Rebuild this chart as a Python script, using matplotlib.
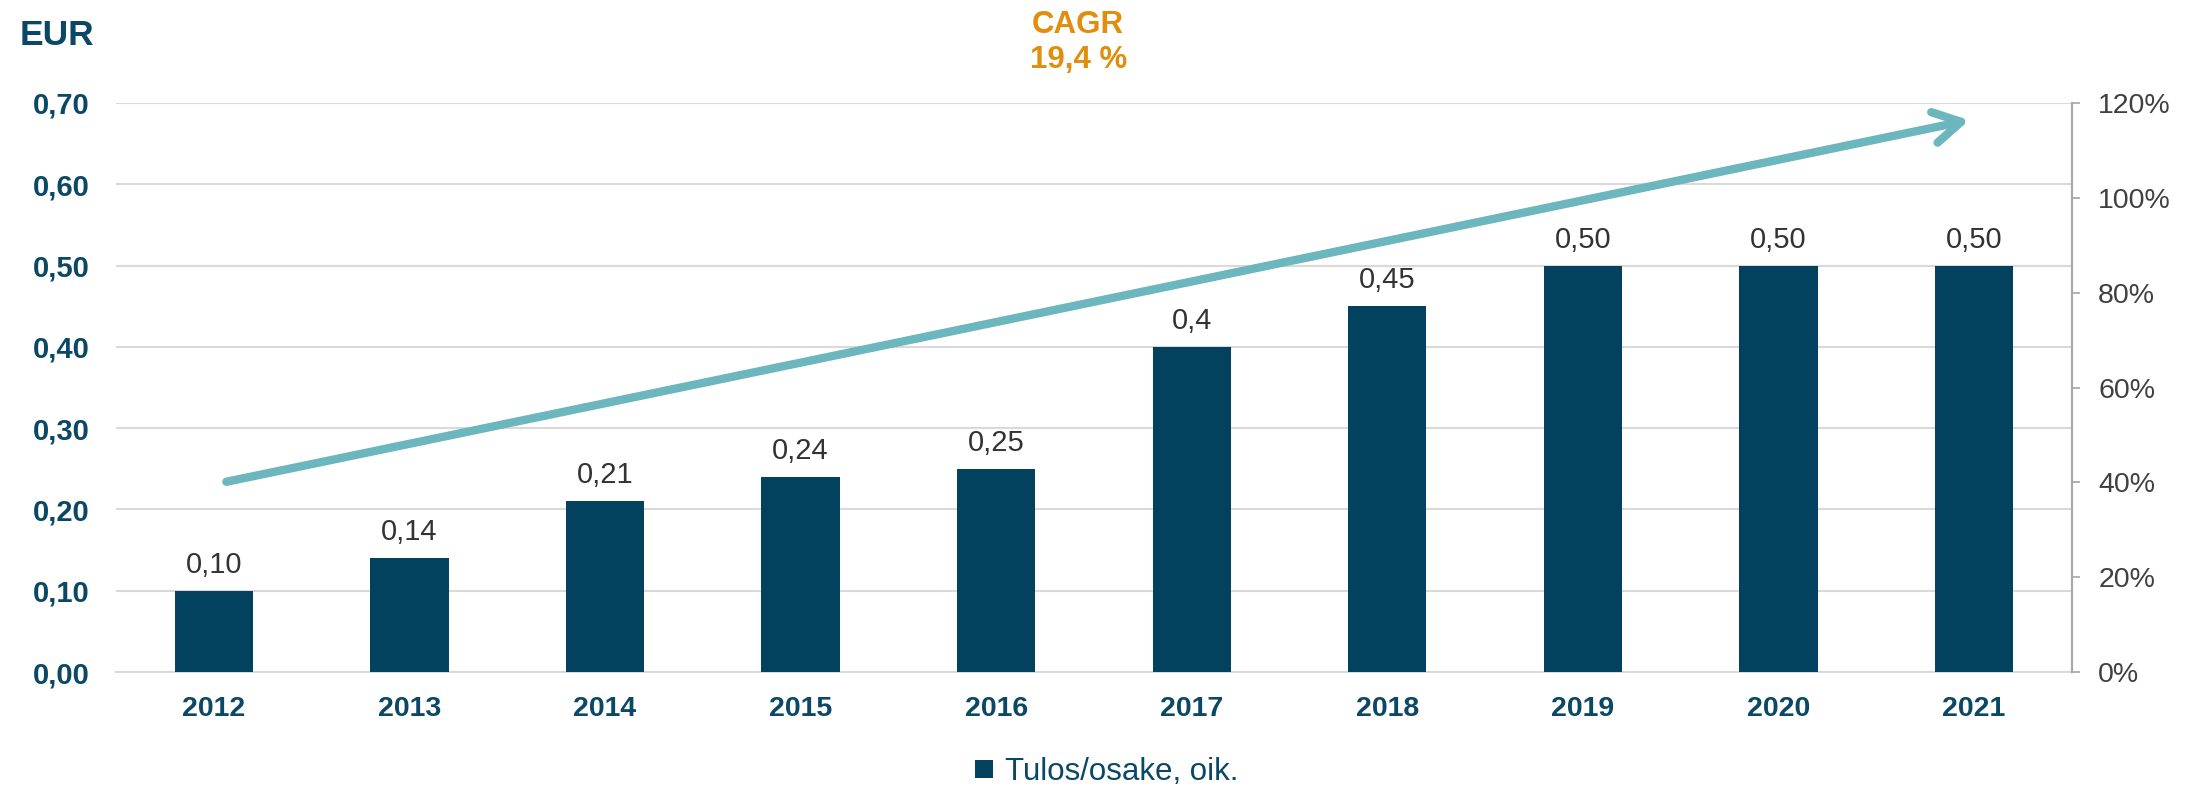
import numpy as np
import matplotlib
matplotlib.use("Agg")
import matplotlib.pyplot as plt

plt.rcParams['font.family'] = ['Liberation Sans', 'DejaVu Sans']

years = ['2012', '2013', '2014', '2015', '2016', '2017', '2018', '2019', '2020', '2021']
eps = [0.10, 0.14, 0.21, 0.24, 0.25, 0.40, 0.45, 0.50, 0.50, 0.50]
eps_labels = ['0,10', '0,14', '0,21', '0,24', '0,25', '0,4', '0,45', '0,50', '0,50', '0,50']
left_ticks = [0.0, 0.1, 0.2, 0.3, 0.4, 0.5, 0.6, 0.7]
right_ticks = [0, 20, 40, 60, 80, 100, 120]
cagr_text = 'CAGR\n19,4 %'

navy = '#03425F'
tickblue = '#0B4866'
orange = '#E08E0B'
teal = '#6CB6BD'
grid = '#D9D9D9'

fig = plt.figure(figsize=(21.9, 7.91), dpi=100)
ax = fig.add_axes([0.053, 0.1504, 0.893, 0.7194])
x = np.arange(len(years))
bars = ax.bar(x, eps, width=0.4, color=navy, zorder=3, label='Tulos/osake, oik.')
for xi, v, lab in zip(x, eps, eps_labels):
    ax.text(xi, v + 0.022, lab, ha='center', va='baseline', fontsize=21, color='#333333')

ax.set_xlim(-0.5, len(years) - 0.5)
ax.set_ylim(0, 0.7)
ax.set_yticks(left_ticks)
ax.set_yticklabels([f'{t:.2f}'.replace('.', ',') for t in left_ticks],
                   fontsize=21, fontweight='bold', color=tickblue)
ax.set_xticks(x)
ax.set_xticklabels(years, fontsize=20.5, fontweight='bold', color=tickblue)
ax.tick_params(axis='x', length=0, pad=17)
ax.tick_params(axis='y', length=0, pad=19)
ax.grid(axis='y', color=grid, linewidth=1.5, zorder=0)
for s in ['top', 'left', 'right']:
    ax.spines[s].set_visible(False)
ax.spines['bottom'].set_color(grid)
ax.spines['bottom'].set_linewidth(1.5)

ax2 = ax.twinx()
ax2.set_ylim(0, 120)
ax2.set_yticks(right_ticks)
ax2.set_yticklabels([f'{t}%' for t in right_ticks], fontsize=20.5, color='#404040')
ax2.tick_params(axis='y', length=6, width=1.2, color='#A6A6A6', pad=13)
for s in ['top', 'left', 'bottom']:
    ax2.spines[s].set_visible(False)
ax2.spines['right'].set_color('#A6A6A6')
ax2.spines['right'].set_linewidth(1.5)

# CAGR arrow
ax2.annotate('', xy=(8.99, 116.5), xytext=(0.05, 40),
             arrowprops=dict(arrowstyle='->, head_length=1.4, head_width=0.8',
                             mutation_scale=14, color=teal, lw=6,
                             capstyle='round', joinstyle='round'),
             zorder=5)

fig.text(0.4923, 0.946, cagr_text, ha='center', va='center', fontsize=22.5,
         fontweight='bold', color=orange, linespacing=1.2)
fig.text(0.009, 0.955, 'EUR', ha='left', va='center', fontsize=25.5,
         fontweight='bold', color=tickblue)

leg = fig.legend(handles=[bars], loc='center', bbox_to_anchor=(0.5055, 0.024),
                 frameon=False, fontsize=22.5, handlelength=0.55, handleheight=0.55,
                 handletextpad=0.4)
for t in leg.get_texts():
    t.set_color(tickblue)

fig.savefig('out.png', dpi=100)
